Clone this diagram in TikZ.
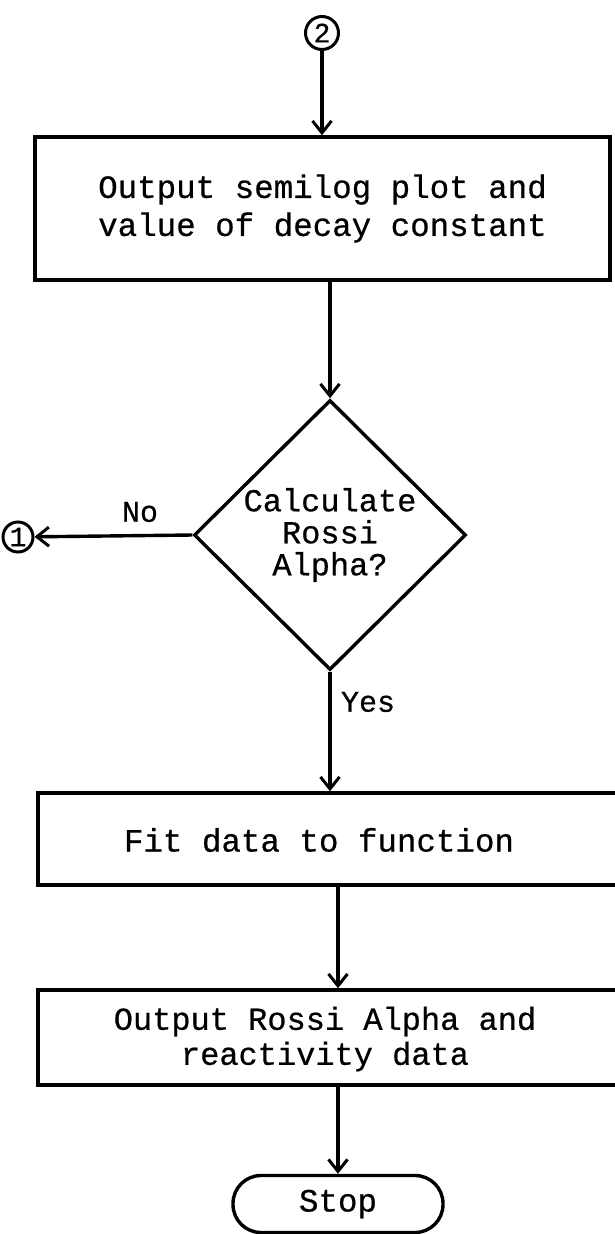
\documentclass[tikz,border=0pt]{standalone}
\usepackage{fontspec}
\setmonofont[RawFeature={embolden=0.6}]{Liberation Mono}
\usetikzlibrary{arrows.meta,shapes.geometric}
\begin{document}
\begin{tikzpicture}[x=1pt,y=-1pt,line width=3.4pt,
  txt/.style={font=\ttfamily\fontsize{32.5}{38}\selectfont},
  box/.style={draw,rectangle,inner sep=0pt,align=center,txt},
  conn/.style={draw,circle,inner sep=0pt,line width=3pt,font=\ttfamily\fontsize{28}{28}\selectfont},
  arr/.style={-{Straight Barb[length=12pt,width=19pt,line width=3pt]}},
  decision/.style={draw,diamond,aspect=1,inner sep=0pt,align=center,
    font=\ttfamily\fontsize{32}{32}\selectfont},
  terminal/.style={draw,rectangle,rounded corners=28pt,inner sep=0pt,txt}]
\useasboundingbox (0,0) rectangle (614,1234);
\fill[white] (0,0) rectangle (614,1234);

% connectors (off-page references)
\node[conn,minimum size=33pt] (c2) at (322,33) {2};
\node[conn,minimum size=30pt] (c1) at (18,537) {1};

% process boxes
\node[box,minimum width=575pt,minimum height=143pt] (b1) at (322.5,208.5)
  {Output semilog plot and\\value of decay constant};
\node[decision,minimum width=272pt,minimum height=270pt] (dia) at (330,535)
  {Calculate\\Rossi\\Alpha?};
\node[box,minimum width=600pt,minimum height=92pt] (b2) at (338,839) {};
\node[txt] (b2t) at (319,840) {Fit data to function};
\node[box,minimum width=600pt,minimum height=95pt] (b3) at (338,1037.5) {};
\node[txt,align=center,font=\ttfamily\fontsize{32}{35}\selectfont] (b3t) at (325,1039)
  {Output Rossi Alpha and\\reactivity data};
\node[terminal,minimum width=210pt,minimum height=57pt] (stop) at (338,1204) {Stop};

% flow lines
\draw[arr] (c2) -- (c2 |- b1.north);
\draw[arr] (dia.north |- b1.south) -- (dia.north);
\draw[arr] (dia.west) -- (c1);
\draw[arr] (dia.south) -- (dia.south |- b2.north);
\draw[arr] (stop.north |- b2.south) -- (stop.north |- b3.north);
\draw[arr] (stop.north |- b3.south) -- (stop.north);

% branch labels
\node[txt,font=\ttfamily\fontsize{30}{30}\selectfont] (no) at (140,512) {No};
\node[txt,font=\ttfamily\fontsize{30}{30}\selectfont,anchor=west] (yes) at (336,702) {Yes};
\end{tikzpicture}
\end{document}
